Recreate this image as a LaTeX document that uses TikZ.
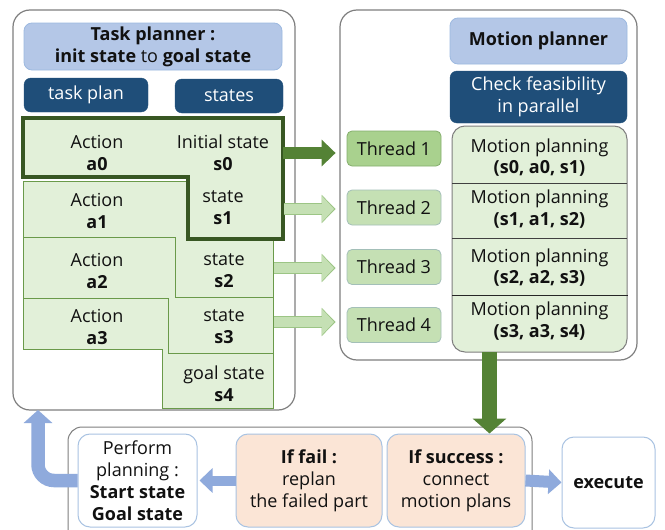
\documentclass[tikz,border=0pt]{standalone}
\usepackage{fontspec}
\setmainfont{Open Sans}
\usetikzlibrary{arrows.meta}
\definecolor{txt}{HTML}{111111}
\definecolor{panelgray}{HTML}{7F7F7F}
\definecolor{lblue}{HTML}{B4C7E7}
\definecolor{lblueedge}{HTML}{9DB9E0}
\definecolor{dblue}{HTML}{1F4E79}
\definecolor{cellgreen}{HTML}{E2F0D9}
\definecolor{celledge}{HTML}{6A9A4A}
\definecolor{thickgreen}{HTML}{385723}
\definecolor{thrA}{HTML}{A9D18E}
\definecolor{thrAedge}{HTML}{84AE6C}
\definecolor{thrB}{HTML}{C5E0B4}
\definecolor{thrBedge}{HTML}{A3BFB8}
\definecolor{orangefill}{HTML}{FBE5D6}
\definecolor{boxedge}{HTML}{A9C3E2}
\definecolor{arrblue}{HTML}{8FAADC}
\definecolor{arrdark}{HTML}{548235}
\definecolor{arrlight}{HTML}{C5E0B4}
\definecolor{arrlightedge}{HTML}{9CC585}
\begin{document}
\begin{tikzpicture}[x=1pt,y=-1pt,
  every node/.style={font=\fontsize{18}{21.8}\selectfont, text=txt, align=center, inner sep=0pt},
  panel/.style={draw=panelgray, line width=1.2pt, rounded corners=17pt, fill=white},
  titlebox/.style={draw=lblueedge, line width=0.8pt, fill=lblue, rounded corners=8pt},
  darkbox/.style={draw=dblue, fill=dblue, rounded corners=7pt, text=white},
  cell/.style={draw=celledge, line width=0.9pt, fill=cellgreen},
  thickcell/.style={draw=thickgreen, line width=3.6pt, fill=cellgreen},
  threadA/.style={draw=thrAedge, line width=0.8pt, fill=thrA, rounded corners=5pt, minimum width=94pt, minimum height=35pt},
  threadB/.style={draw=thrBedge, line width=0.8pt, fill=thrB, rounded corners=5pt, minimum width=94pt, minimum height=35pt},
  whitebox/.style={draw=boxedge, line width=1pt, fill=white, rounded corners=12pt},
  orangebox/.style={draw=boxedge, line width=1pt, fill=orangefill, rounded corners=12pt},
  darkarrow/.style={draw=arrdark, line width=12pt, -{Triangle[length=14pt,width=26pt]}},
  lightarrowedge/.style={draw=arrlightedge, line width=11.6pt, -{Triangle[length=14pt,width=27.6pt]}},
  lightarrow/.style={draw=arrlight, line width=10pt, -{Triangle[length=12pt,width=25pt]}},
  downarrow/.style={draw=arrdark, line width=15pt, -{Triangle[length=15pt,width=33pt]}},
  bluearrow/.style={draw=arrblue, line width=11pt, -{Triangle[length=13pt,width=24pt]}},
]
\clip (0,0) rectangle (665,530);
\fill[white] (0,0) rectangle (665,530);

% panels
\node[panel, minimum width=282pt, minimum height=400pt] (leftpanel) at (154,210) {};
\node[panel, minimum width=297pt, minimum height=350pt] (rightpanel) at (488.5,185) {};
\node[panel, line width=1pt, rounded corners=14pt, minimum width=464pt, minimum height=118pt] (botpanel) at (300,486) {};

% task planner header
\node[titlebox, minimum width=258pt, minimum height=47pt] (tp) at (153,46.5)
  {\textbf{Task planner :}\\\textbf{init state} to \textbf{goal state}};
\node[darkbox, minimum width=124pt, minimum height=34pt] (taskplan) at (86,95) {task plan};
\node[darkbox, minimum width=108pt, minimum height=34pt] (states) at (229,96) {states};

% cells (back to front)
\draw[cell] (23,298) -- (273,298) -- (273,408) -- (162,408) -- (162,349) -- (23,349) -- cycle;
\draw[cell] (23,237) -- (273,237) -- (273,353) -- (168,353) -- (168,298) -- (23,298) -- cycle;
\draw[cell] (23,181) -- (273,181) -- (273,297) -- (175,297) -- (175,237) -- (23,237) -- cycle;
\draw[thickcell] (23,118) -- (283,118) -- (283,239) -- (188,239) -- (188,177) -- (23,177) -- cycle;

\node (a0) at (97,153) {Action\\\textbf{a0}};
\node (s0) at (223,153) {Initial state\\\textbf{s0}};
\node (a1) at (97,211) {Action\\\textbf{a1}};
\node (s1) at (223,208) {state\\\textbf{s1}};
\node (a2) at (97,271) {Action\\\textbf{a2}};
\node (s2) at (224,271) {state\\\textbf{s2}};
\node (a3) at (97,327) {Action\\\textbf{a3}};
\node (s3) at (224,327) {state\\\textbf{s3}};
\node (s4) at (224,384) {goal state\\\textbf{s4}};

% motion planner
\node[titlebox, minimum width=177pt, minimum height=46pt] (mp) at (538.5,41) {\textbf{Motion planner}};
\node[darkbox, minimum width=177pt, minimum height=52pt] (check) at (538.5,97) {Check feasibility\\in parallel};
\node[draw=panelgray, line width=1pt, fill=cellgreen, rounded corners=13pt, minimum width=175pt, minimum height=226pt] (mpcol) at (539.5,239) {};
\draw[draw=black!75, line width=1pt] (452,183) -- (627,183);
\draw[draw=black!75, line width=1pt] (452,238) -- (627,238);
\draw[draw=black!85, line width=1pt] (452,295) -- (628,295);
\node (mp1) at (539.5,157.5) {Motion planning\\\textbf{(s0, a0, s1)}};
\node (mp2) at (539.5,209) {Motion planning\\\textbf{(s1, a1, s2)}};
\node (mp3) at (539.5,267.5) {Motion planning\\\textbf{(s2, a2, s3)}};
\node (mp4) at (539.5,321) {Motion planning\\\textbf{(s3, a3, s4)}};

% threads
\node[threadA] (t1) at (394,148.5) {Thread 1};
\node[threadB] (t2) at (394,207.5) {Thread 2};
\node[threadB] (t3) at (394,267) {Thread 3};
\node[threadB] (t4) at (394,325) {Thread 4};

% arrows cells -> threads
\coordinate (e0) at (283,153);
\coordinate (e1) at (284,209);
\coordinate (e2) at (274,268);
\coordinate (e3) at (274,322);
\draw[darkarrow, shorten >=11pt] (e0) -- (e0 -| t1.west);
\foreach \e/\t in {e1/t2, e2/t3, e3/t4}{
  \draw[lightarrowedge, shorten >=11pt] (\e) -- (\e -| \t.west);
  \draw[lightarrow, shorten >=12.6pt] (\e) -- (\e -| \t.west);
}

% bottom row
\node[whitebox, minimum width=119pt, minimum height=93pt] (perform) at (137.5,480.5)
  {Perform\\planning :\\\textbf{Start state}\\\textbf{Goal state}};
\node[orangebox, minimum width=146pt, minimum height=93pt] (fail) at (309,480.5)
  {\textbf{If fail :}\\replan\\the failed part};
\node[orangebox, minimum width=138pt, minimum height=93pt] (succ) at (456,480.5)
  {\textbf{If success :}\\connect\\motion plans};
\node[whitebox, minimum width=93pt, minimum height=91pt] (exec) at (608.5,482.5) {\textbf{execute}};

% down arrow
\coordinate (d0) at (489.5,352);
\draw[downarrow] (d0) -- (d0 |- succ.north);

% blue arrows
\draw[bluearrow, line width=10pt, shorten >=2pt] (fail.west) -- (perform.east);
\draw[bluearrow, line width=12pt] (succ.east) -- (exec.west);
\coordinate (up) at (38,410);
\draw[bluearrow, line width=13.5pt, rounded corners=16pt, -{Triangle[length=13pt,width=28pt]}] (perform.west) -| (up);
\end{tikzpicture}
\end{document}
